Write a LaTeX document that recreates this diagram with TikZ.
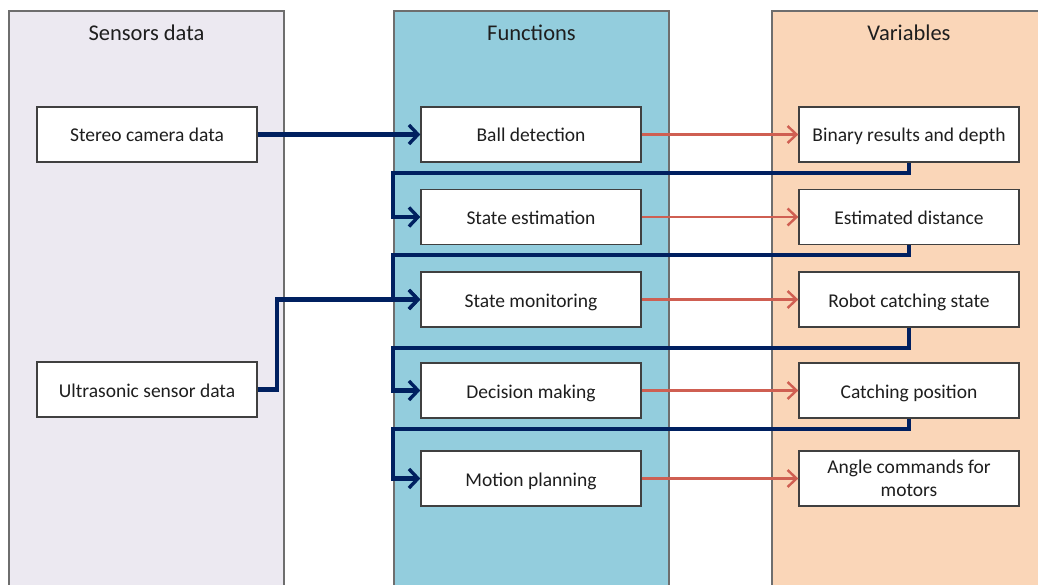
\documentclass[tikz,border=0pt]{standalone}
\usepackage{fontspec}
\setmainfont{Carlito}
\usetikzlibrary{arrows.meta}

\definecolor{sensfill}{HTML}{ECE9F1}
\definecolor{funcfill}{HTML}{93CDDD}
\definecolor{varsfill}{HTML}{FAD6B8}
\definecolor{panelline}{HTML}{6E6E6E}
\definecolor{boxline}{HTML}{404040}
\definecolor{navyline}{HTML}{002060}
\definecolor{redline}{HTML}{CF5F52}
\definecolor{txt}{HTML}{1E1E1E}

\begin{document}
\begin{tikzpicture}[x=1pt,y=-1pt,
  panel/.style={draw=panelline, line width=1.6pt},
  paneltitle/.style={text=txt, font=\fontsize{22.5}{26}\selectfont},
  itembox/.style={draw=boxline, fill=white, line width=1.4pt,
    minimum width=220pt, minimum height=55pt, inner sep=2pt,
    text=txt, align=center, font=\fontsize{19.5}{23}\selectfont},
  oneline/.style={itembox, text height=18pt, text depth=3pt},
  flow/.style={draw=navyline, line width=4.2pt,
    -{Straight Barb[length=9pt,width=19pt,line width=3.4pt]}},
  result/.style={draw=redline, line width=2.4pt,
    -{Straight Barb[length=9pt,width=17pt,line width=2.4pt]}},
  feedback/.style={flow}
]
\useasboundingbox (0,0) rectangle (1038,585);
\clip (0,0) rectangle (1038,585);

% column panels, open at the bottom
\path[panel, fill=sensfill] (9,11) rectangle (284,600);
\path[panel, fill=funcfill] (394,11) rectangle (669,600);
\path[panel, fill=varsfill] (772,11) rectangle (1050,600);

\node[paneltitle] (tsens) at (146.5,33) {Sensors data};
\node[paneltitle] (tfunc) at (531.5,33) {Functions};
\node[paneltitle] (tvars) at (909,33) {Variables};

% sensor inputs
\node[oneline] (s1) at (147,134.5) {Stereo camera data};
\node[oneline] (s2) at (147,389.5) {Ultrasonic sensor data};

% processing functions
\node[oneline] (f1) at (531,134.5) {Ball detection};
\node[oneline] (f2) at (531,217) {State estimation};
\node[oneline] (f3) at (531,299.5) {State monitoring};
\node[oneline] (f4) at (531,390.5) {Decision making};
\node[oneline] (f5) at (531,478.5) {Motion planning};

% produced variables
\node[oneline] (v1) at (909,134.5) {Binary results and depth};
\node[oneline] (v2) at (909,217) {Estimated distance};
\node[oneline] (v3) at (909,299.5) {Robot catching state};
\node[oneline] (v4) at (909,390.5) {Catching position};
\node[itembox] (v5) at (909,478.5) {Angle commands for\\motors};

% sensor data into the functions
\draw[flow] (s1.east) -- (f1.west);
\draw[flow] (s2.east) -- ++(19,0) |- (f3.west);

% each variable feeds the next function
\draw[feedback] (v1.south) -- ++(0,10) -| ([xshift=-27pt]f2.west) -- (f2.west);
\draw[feedback] (v2.south) -- ++(0,10) -| ([xshift=-27pt]f3.west) -- (f3.west);
\draw[feedback] (v3.south) -- ++(0,20) -| ([xshift=-27pt]f4.west) -- (f4.west);
\draw[feedback] (v4.south) -- ++(0,10) -| ([xshift=-27pt]f5.west) -- (f5.west);

% function outputs
\draw[result] (f1.east) -- (v1.west);
\draw[result] (f2.east) -- (v2.west);
\draw[result] (f3.east) -- (v3.west);
\draw[result] (f4.east) -- (v4.west);
\draw[result] (f5.east) -- (v5.west);
\end{tikzpicture}
\end{document}
